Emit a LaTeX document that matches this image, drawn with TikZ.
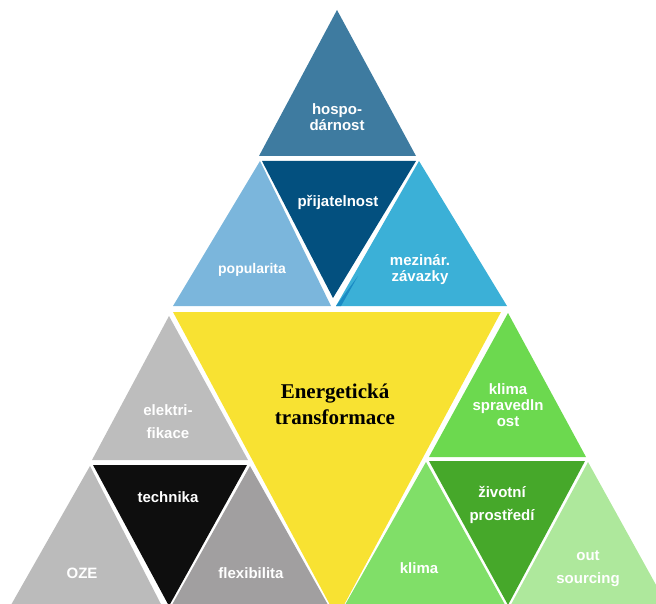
\documentclass[tikz,border=0pt]{standalone}
\usepackage{fontspec}
\setsansfont{Liberation Sans}
\newfontfamily\energfont{Liberation Serif}
\definecolor{hospcol}{HTML}{3E7BA0}
\definecolor{prijcol}{HTML}{03507F}
\definecolor{popcol}{HTML}{7BB6DC}
\definecolor{mezcol}{HTML}{3BB0D7}
\definecolor{mezdark}{HTML}{1A8BC4}
\definecolor{energcol}{HTML}{F8E232}
\definecolor{elekcol}{HTML}{BDBDBD}
\definecolor{techcol}{HTML}{0E0E0E}
\definecolor{ozecol}{HTML}{BBBBBB}
\definecolor{flexcol}{HTML}{A19FA0}
\definecolor{klspcol}{HTML}{6CD94F}
\definecolor{klimacol}{HTML}{80DF68}
\definecolor{zivcol}{HTML}{46A82A}
\definecolor{outscol}{HTML}{AEE89C}

\begin{document}
\begin{tikzpicture}[x=1pt,y=-1pt,
    lbl/.style={text=white,align=center,inner sep=0pt,font=\sffamily\bfseries\fontsize{15}{16}\selectfont},
    lblw/.style={lbl,font=\sffamily\bfseries\fontsize{15}{23}\selectfont}]
  \useasboundingbox (0,0) rectangle (656,604);
  \clip (0,0) rectangle (656,604);
  \fill[hospcol] (337,10) -- (259,156) -- (416,156) -- cycle;
  \fill[popcol] (260,161) -- (173,306) -- (331,306) -- cycle;
  \fill[prijcol] (262,161) -- (416,161) -- (333,298) -- cycle;
  \fill[mezcol] (419,161) -- (507,306) -- (336,306) -- cycle;
  \fill[mezdark] (336,306) -- (341,306) -- (358,276) -- cycle;
  \fill[energcol] (173,312) -- (501,312) -- (337,618) -- cycle;
  \fill[elekcol] (169,316) -- (92,460) -- (248,460) -- cycle;
  \fill[ozecol] (90,466) -- (7,612) -- (165,612) -- cycle;
  \fill[techcol] (93,465) -- (247,465) -- (169,606) -- cycle;
  \fill[flexcol] (250,466) -- (168,612) -- (332,612) -- cycle;
  \fill[klspcol] (508,313) -- (429,457) -- (586,457) -- cycle;
  \fill[klimacol] (426,462) -- (341,612) -- (509,612) -- cycle;
  \fill[zivcol] (429,461) -- (585,461) -- (508,605) -- cycle;
  \fill[outscol] (588,462) -- (507,612) -- (671,612) -- cycle;
  \node[lbl] (hosp) at (337,117) {hospo-\\dárnost};
  \node[lbl] (prij) at (338,202) {přijatelnost};
  \node[lbl,font=\sffamily\bfseries\fontsize{14}{16}\selectfont] (pop) at (252,270) {popularita};
  \node[lbl] (mez) at (420,270) {mezinár.\\závazky};
  \node[align=center,inner sep=0pt,font=\energfont\bfseries\fontsize{21}{26}\selectfont] (energ) at (335,404) {Energetická\\transformace};
  \node[lblw] (elek) at (168,422) {elektri-\\fikace};
  \node[lbl] (tech) at (168,497) {technika};
  \node[lbl] (oze) at (82,573) {OZE};
  \node[lbl] (flex) at (251,573) {flexibilita};
  \node[lbl] (klsp) at (508,405) {klima\\spravedln\\ost};
  \node[lblw] (ziv) at (502,505) {životní\\prostředí};
  \node[lbl] (klima) at (419,568) {klima};
  \node[lblw] (outs) at (588,569) {out\\sourcing};
\end{tikzpicture}
\end{document}
